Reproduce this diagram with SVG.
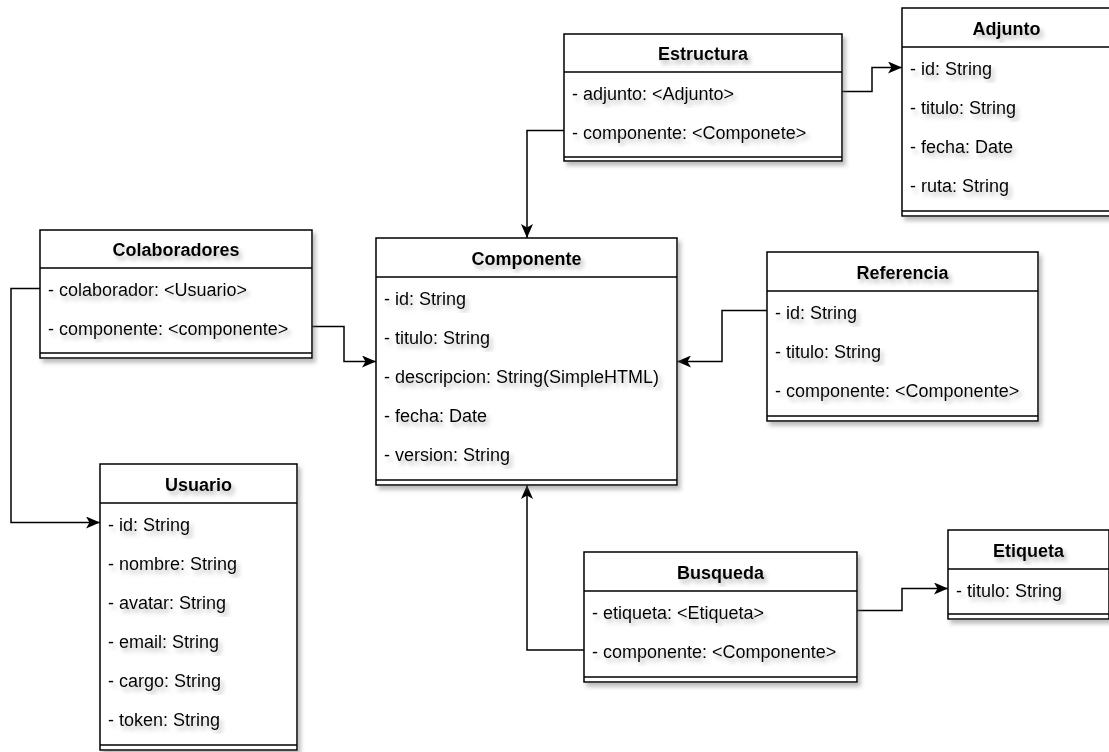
<svg xmlns="http://www.w3.org/2000/svg" width="1109" height="752" viewBox="0 0 1109 752">
<defs>
<filter id="sh" x="-10%" y="-10%" width="130%" height="130%">
<feGaussianBlur in="SourceAlpha" stdDeviation="2"/>
<feOffset dx="3" dy="4" result="b"/>
<feFlood flood-color="#6a6a6a" flood-opacity="0.45"/>
<feComposite in2="b" operator="in"/>
<feMerge><feMergeNode/><feMergeNode in="SourceGraphic"/></feMerge>
</filter>
<marker id="arr" viewBox="0 0 14 12" refX="14" refY="6" markerWidth="14" markerHeight="12" markerUnits="userSpaceOnUse" orient="auto">
<path d="M0,0 L14,6 L0,12 L3.5,6 z" fill="#000"/>
</marker>
</defs>
<style>
.box{fill:#fff;stroke:#000;stroke-width:1.5;filter:url(#sh)}
.ln{stroke:#000;stroke-width:1.5;fill:none}
.t{font-family:"Liberation Sans",Arial,sans-serif;font-size:18px;font-weight:bold;text-anchor:middle;fill:#000;filter:url(#sh)}
.r{font-family:"Liberation Sans",Arial,sans-serif;font-size:18px;fill:#000;filter:url(#sh)}
.c{stroke:#000;stroke-width:1.5;fill:none;marker-end:url(#arr)}
</style>
<rect width="1109" height="752" fill="#fff"/>

<g id="connectors">
<path class="c" d="M842,91.5 H872 V67.5 H902"/>
<path class="c" d="M564,130.5 H527 V238"/>
<path class="c" d="M312,326.5 H344 V361.5 H376"/>
<path class="c" d="M40,288.5 H11 V522.5 H100"/>
<path class="c" d="M767,310.5 H722 V361.5 H677"/>
<path class="c" d="M584,650 H527 V485"/>
<path class="c" d="M857,610.5 H902 V588.5 H948"/>
</g>

<g id="estructura">
<rect class="box" x="564" y="34" width="278" height="127"/>
<path class="ln" d="M564,72 H842 M564,157 H842"/>
<text class="t" x="703" y="60">Estructura</text>
<text class="r" x="572" y="100">- adjunto: &lt;Adjunto&gt;</text>
<text class="r" x="572" y="139">- componente: &lt;Componete&gt;</text>
</g>

<g id="adjunto">
<rect class="box" x="902" y="8" width="209" height="208"/>
<path class="ln" d="M902,47 H1111 M902,211 H1111"/>
<text class="t" x="1006.5" y="35">Adjunto</text>
<text class="r" x="910" y="75">- id: String</text>
<text class="r" x="910" y="114">- titulo: String</text>
<text class="r" x="910" y="153">- fecha: Date</text>
<text class="r" x="910" y="192">- ruta: String</text>
</g>

<g id="colaboradores">
<rect class="box" x="40" y="230" width="272" height="128"/>
<path class="ln" d="M40,268 H312 M40,353 H312"/>
<text class="t" x="176" y="256">Colaboradores</text>
<text class="r" x="48" y="296">- colaborador: &lt;Usuario&gt;</text>
<text class="r" x="48" y="335">- componente: &lt;componente&gt;</text>
</g>

<g id="componente">
<rect class="box" x="376" y="238" width="301" height="247"/>
<path class="ln" d="M376,277 H677 M376,480 H677"/>
<text class="t" x="526.5" y="265">Componente</text>
<text class="r" x="384" y="305">- id: String</text>
<text class="r" x="384" y="344">- titulo: String</text>
<text class="r" x="384" y="383">- descripcion: String(SimpleHTML)</text>
<text class="r" x="384" y="422">- fecha: Date</text>
<text class="r" x="384" y="461">- version: String</text>
</g>

<g id="referencia">
<rect class="box" x="767" y="252" width="271" height="169"/>
<path class="ln" d="M767,291 H1038 M767,416 H1038"/>
<text class="t" x="902.5" y="279">Referencia</text>
<text class="r" x="775" y="319">- id: String</text>
<text class="r" x="775" y="358">- titulo: String</text>
<text class="r" x="775" y="397">- componente: &lt;Componente&gt;</text>
</g>

<g id="usuario">
<rect class="box" x="100" y="464" width="197" height="286"/>
<path class="ln" d="M100,503 H297 M100,745 H297"/>
<text class="t" x="198.5" y="491">Usuario</text>
<text class="r" x="108" y="531">- id: String</text>
<text class="r" x="108" y="570">- nombre: String</text>
<text class="r" x="108" y="609">- avatar: String</text>
<text class="r" x="108" y="648">- email: String</text>
<text class="r" x="108" y="687">- cargo: String</text>
<text class="r" x="108" y="726">- token: String</text>
</g>

<g id="busqueda">
<rect class="box" x="584" y="552" width="273" height="130"/>
<path class="ln" d="M584,591 H857 M584,677 H857"/>
<text class="t" x="720.5" y="579">Busqueda</text>
<text class="r" x="592" y="619">- etiqueta: &lt;Etiqueta&gt;</text>
<text class="r" x="592" y="658">- componente: &lt;Componente&gt;</text>
</g>

<g id="etiqueta">
<rect class="box" x="948" y="530" width="161" height="89"/>
<path class="ln" d="M948,569 H1109 M948,614 H1109"/>
<text class="t" x="1028.5" y="557">Etiqueta</text>
<text class="r" x="956" y="597">- titulo: String</text>
</g>
</svg>
